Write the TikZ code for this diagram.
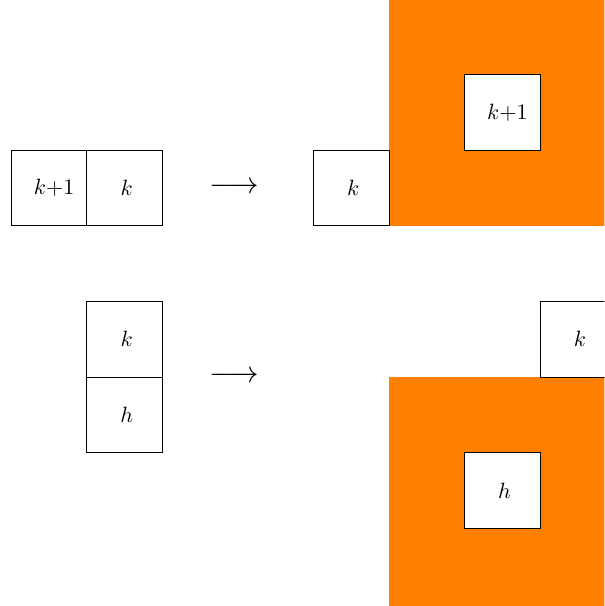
\documentclass[tikz,border=0pt]{standalone}
\usepackage{xcolor}
\usepackage{tikz}
\usepackage{amsmath}
\usetikzlibrary{positioning}

\begin{document}
\begin{tikzpicture}[x=1.2cm,y=1.2cm]
        \clip (-0.15,-0.03) rectangle (7.85,7.99);
        \fill[orange] (5,5) rectangle (8.5,8.5);
        \fill[orange] (5,-0.5) rectangle (8.5,3);
        \begin{scope}[every node/.style={draw,fill=white,minimum size=1.2cm,inner sep=0pt,outer sep=0pt}]
          \node (ka) at (0.5,5.5) {\hspace{4.5pt}$k{+}1$};
          \node (kb) [right=0pt of ka] {\hspace{1.8pt}$k$};
          \node (kc) at (4.5,5.5) {\hspace{1.8pt}$k$};
          \node (kd) at (6.5,6.5) {\hspace{4.5pt}$k{+}1$};
          \node (ke) at (1.5,3.5) {\hspace{1.8pt}$k$};
          \node (ha) [below=0pt of ke] {\hspace{1.8pt}$h$};
          \node (kf) at (7.5,3.5) {\hspace{1.8pt}$k$};
          \node (hb) at (6.5,1.5) {\hspace{1.8pt}$h$};
        \end{scope}
        \begin{scope}[every node/.style={font=\large}]
          \node (ra) at (2.95,5.5) {\scalebox{1.15}{$\longrightarrow$}};
          \node (rb) at (2.95,3) {\scalebox{1.15}{$\longrightarrow$}};
        \end{scope}
      \end{tikzpicture}
\end{document}
